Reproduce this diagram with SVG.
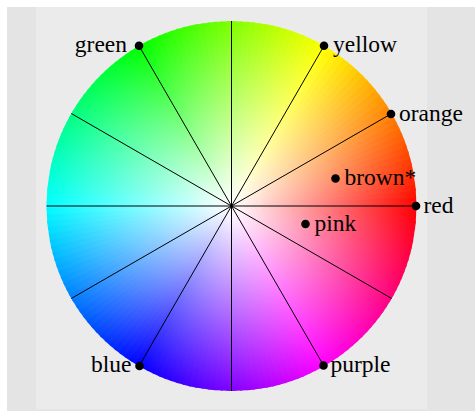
<svg xmlns="http://www.w3.org/2000/svg" xmlns:xlink="http://www.w3.org/1999/xlink" width="475" height="411" viewBox="0 0 475 411">
<style>
.lbl{font-family:"Liberation Serif","Times New Roman",serif;font-size:23.5px;fill:#000}
.dot{fill:#000}
.spoke{stroke:#000;stroke-width:1;fill:none}
</style>
<defs>
<path id="w" d="M0,0L190,-4.5L190,4.5Z"/>
<clipPath id="cc"><circle cx="0" cy="0" r="185"/></clipPath>
<radialGradient id="wh" cx="0.5" cy="0.5" r="0.5">
<stop offset="0" stop-color="#fff" stop-opacity="1"/>
<stop offset="1" stop-color="#fff" stop-opacity="0"/>
</radialGradient>
</defs>
<rect x="0" y="0" width="475" height="411" fill="#fff"/>
<rect x="7" y="7" width="468" height="404" fill="#e4e4e4"/>
<rect x="36" y="7" width="391" height="402" fill="#ebebeb"/>
<g id="wheel" transform="translate(231.5,206)">
<g clip-path="url(#cc)">
<use href="#w" transform="rotate(0)" fill="hsl(0,100%,50%)"/>
<use href="#w" transform="rotate(-2)" fill="hsl(2,100%,50%)"/>
<use href="#w" transform="rotate(-4)" fill="hsl(4,100%,50%)"/>
<use href="#w" transform="rotate(-6)" fill="hsl(6,100%,50%)"/>
<use href="#w" transform="rotate(-8)" fill="hsl(8,100%,50%)"/>
<use href="#w" transform="rotate(-10)" fill="hsl(10,100%,50%)"/>
<use href="#w" transform="rotate(-12)" fill="hsl(12,100%,50%)"/>
<use href="#w" transform="rotate(-14)" fill="hsl(14,100%,50%)"/>
<use href="#w" transform="rotate(-16)" fill="hsl(16,100%,50%)"/>
<use href="#w" transform="rotate(-18)" fill="hsl(18,100%,50%)"/>
<use href="#w" transform="rotate(-20)" fill="hsl(20,100%,50%)"/>
<use href="#w" transform="rotate(-22)" fill="hsl(22,100%,50%)"/>
<use href="#w" transform="rotate(-24)" fill="hsl(24,100%,50%)"/>
<use href="#w" transform="rotate(-26)" fill="hsl(26,100%,50%)"/>
<use href="#w" transform="rotate(-28)" fill="hsl(28,100%,50%)"/>
<use href="#w" transform="rotate(-30)" fill="hsl(30,100%,50%)"/>
<use href="#w" transform="rotate(-32)" fill="hsl(32,100%,50%)"/>
<use href="#w" transform="rotate(-34)" fill="hsl(34,100%,50%)"/>
<use href="#w" transform="rotate(-36)" fill="hsl(36,100%,50%)"/>
<use href="#w" transform="rotate(-38)" fill="hsl(38,100%,50%)"/>
<use href="#w" transform="rotate(-40)" fill="hsl(40,100%,50%)"/>
<use href="#w" transform="rotate(-42)" fill="hsl(42,100%,50%)"/>
<use href="#w" transform="rotate(-44)" fill="hsl(44,100%,50%)"/>
<use href="#w" transform="rotate(-46)" fill="hsl(46,100%,50%)"/>
<use href="#w" transform="rotate(-48)" fill="hsl(48,100%,50%)"/>
<use href="#w" transform="rotate(-50)" fill="hsl(50,100%,50%)"/>
<use href="#w" transform="rotate(-52)" fill="hsl(52,100%,50%)"/>
<use href="#w" transform="rotate(-54)" fill="hsl(54,100%,50%)"/>
<use href="#w" transform="rotate(-56)" fill="hsl(56,100%,50%)"/>
<use href="#w" transform="rotate(-58)" fill="hsl(58,100%,50%)"/>
<use href="#w" transform="rotate(-60)" fill="hsl(60,100%,50%)"/>
<use href="#w" transform="rotate(-62)" fill="hsl(62,100%,50%)"/>
<use href="#w" transform="rotate(-64)" fill="hsl(64,100%,50%)"/>
<use href="#w" transform="rotate(-66)" fill="hsl(66,100%,50%)"/>
<use href="#w" transform="rotate(-68)" fill="hsl(68,100%,50%)"/>
<use href="#w" transform="rotate(-70)" fill="hsl(70,100%,50%)"/>
<use href="#w" transform="rotate(-72)" fill="hsl(72,100%,50%)"/>
<use href="#w" transform="rotate(-74)" fill="hsl(74,100%,50%)"/>
<use href="#w" transform="rotate(-76)" fill="hsl(76,100%,50%)"/>
<use href="#w" transform="rotate(-78)" fill="hsl(78,100%,50%)"/>
<use href="#w" transform="rotate(-80)" fill="hsl(80,100%,50%)"/>
<use href="#w" transform="rotate(-82)" fill="hsl(82,100%,50%)"/>
<use href="#w" transform="rotate(-84)" fill="hsl(84,100%,50%)"/>
<use href="#w" transform="rotate(-86)" fill="hsl(86,100%,50%)"/>
<use href="#w" transform="rotate(-88)" fill="hsl(88,100%,50%)"/>
<use href="#w" transform="rotate(-90)" fill="hsl(90,100%,50%)"/>
<use href="#w" transform="rotate(-92)" fill="hsl(92,100%,50%)"/>
<use href="#w" transform="rotate(-94)" fill="hsl(94,100%,50%)"/>
<use href="#w" transform="rotate(-96)" fill="hsl(96,100%,50%)"/>
<use href="#w" transform="rotate(-98)" fill="hsl(98,100%,50%)"/>
<use href="#w" transform="rotate(-100)" fill="hsl(100,100%,50%)"/>
<use href="#w" transform="rotate(-102)" fill="hsl(102,100%,50%)"/>
<use href="#w" transform="rotate(-104)" fill="hsl(104,100%,50%)"/>
<use href="#w" transform="rotate(-106)" fill="hsl(106,100%,50%)"/>
<use href="#w" transform="rotate(-108)" fill="hsl(108,100%,50%)"/>
<use href="#w" transform="rotate(-110)" fill="hsl(110,100%,50%)"/>
<use href="#w" transform="rotate(-112)" fill="hsl(112,100%,50%)"/>
<use href="#w" transform="rotate(-114)" fill="hsl(114,100%,50%)"/>
<use href="#w" transform="rotate(-116)" fill="hsl(116,100%,50%)"/>
<use href="#w" transform="rotate(-118)" fill="hsl(118,100%,50%)"/>
<use href="#w" transform="rotate(-120)" fill="hsl(120,100%,50%)"/>
<use href="#w" transform="rotate(-122)" fill="hsl(122,100%,50%)"/>
<use href="#w" transform="rotate(-124)" fill="hsl(124,100%,50%)"/>
<use href="#w" transform="rotate(-126)" fill="hsl(126,100%,50%)"/>
<use href="#w" transform="rotate(-128)" fill="hsl(128,100%,50%)"/>
<use href="#w" transform="rotate(-130)" fill="hsl(130,100%,50%)"/>
<use href="#w" transform="rotate(-132)" fill="hsl(132,100%,50%)"/>
<use href="#w" transform="rotate(-134)" fill="hsl(134,100%,50%)"/>
<use href="#w" transform="rotate(-136)" fill="hsl(136,100%,50%)"/>
<use href="#w" transform="rotate(-138)" fill="hsl(138,100%,50%)"/>
<use href="#w" transform="rotate(-140)" fill="hsl(140,100%,50%)"/>
<use href="#w" transform="rotate(-142)" fill="hsl(142,100%,50%)"/>
<use href="#w" transform="rotate(-144)" fill="hsl(144,100%,50%)"/>
<use href="#w" transform="rotate(-146)" fill="hsl(146,100%,50%)"/>
<use href="#w" transform="rotate(-148)" fill="hsl(148,100%,50%)"/>
<use href="#w" transform="rotate(-150)" fill="hsl(150,100%,50%)"/>
<use href="#w" transform="rotate(-152)" fill="hsl(152,100%,50%)"/>
<use href="#w" transform="rotate(-154)" fill="hsl(154,100%,50%)"/>
<use href="#w" transform="rotate(-156)" fill="hsl(156,100%,50%)"/>
<use href="#w" transform="rotate(-158)" fill="hsl(158,100%,50%)"/>
<use href="#w" transform="rotate(-160)" fill="hsl(160,100%,50%)"/>
<use href="#w" transform="rotate(-162)" fill="hsl(162,100%,50%)"/>
<use href="#w" transform="rotate(-164)" fill="hsl(164,100%,50%)"/>
<use href="#w" transform="rotate(-166)" fill="hsl(166,100%,50%)"/>
<use href="#w" transform="rotate(-168)" fill="hsl(168,100%,50%)"/>
<use href="#w" transform="rotate(-170)" fill="hsl(170,100%,50%)"/>
<use href="#w" transform="rotate(-172)" fill="hsl(172,100%,50%)"/>
<use href="#w" transform="rotate(-174)" fill="hsl(174,100%,50%)"/>
<use href="#w" transform="rotate(-176)" fill="hsl(176,100%,50%)"/>
<use href="#w" transform="rotate(-178)" fill="hsl(178,100%,50%)"/>
<use href="#w" transform="rotate(-180)" fill="hsl(180,100%,50%)"/>
<use href="#w" transform="rotate(-182)" fill="hsl(182,100%,50%)"/>
<use href="#w" transform="rotate(-184)" fill="hsl(184,100%,50%)"/>
<use href="#w" transform="rotate(-186)" fill="hsl(186,100%,50%)"/>
<use href="#w" transform="rotate(-188)" fill="hsl(188,100%,50%)"/>
<use href="#w" transform="rotate(-190)" fill="hsl(190,100%,50%)"/>
<use href="#w" transform="rotate(-192)" fill="hsl(192,100%,50%)"/>
<use href="#w" transform="rotate(-194)" fill="hsl(194,100%,50%)"/>
<use href="#w" transform="rotate(-196)" fill="hsl(196,100%,50%)"/>
<use href="#w" transform="rotate(-198)" fill="hsl(198,100%,50%)"/>
<use href="#w" transform="rotate(-200)" fill="hsl(200,100%,50%)"/>
<use href="#w" transform="rotate(-202)" fill="hsl(202,100%,50%)"/>
<use href="#w" transform="rotate(-204)" fill="hsl(204,100%,50%)"/>
<use href="#w" transform="rotate(-206)" fill="hsl(206,100%,50%)"/>
<use href="#w" transform="rotate(-208)" fill="hsl(208,100%,50%)"/>
<use href="#w" transform="rotate(-210)" fill="hsl(210,100%,50%)"/>
<use href="#w" transform="rotate(-212)" fill="hsl(212,100%,50%)"/>
<use href="#w" transform="rotate(-214)" fill="hsl(214,100%,50%)"/>
<use href="#w" transform="rotate(-216)" fill="hsl(216,100%,50%)"/>
<use href="#w" transform="rotate(-218)" fill="hsl(218,100%,50%)"/>
<use href="#w" transform="rotate(-220)" fill="hsl(220,100%,50%)"/>
<use href="#w" transform="rotate(-222)" fill="hsl(222,100%,50%)"/>
<use href="#w" transform="rotate(-224)" fill="hsl(224,100%,50%)"/>
<use href="#w" transform="rotate(-226)" fill="hsl(226,100%,50%)"/>
<use href="#w" transform="rotate(-228)" fill="hsl(228,100%,50%)"/>
<use href="#w" transform="rotate(-230)" fill="hsl(230,100%,50%)"/>
<use href="#w" transform="rotate(-232)" fill="hsl(232,100%,50%)"/>
<use href="#w" transform="rotate(-234)" fill="hsl(234,100%,50%)"/>
<use href="#w" transform="rotate(-236)" fill="hsl(236,100%,50%)"/>
<use href="#w" transform="rotate(-238)" fill="hsl(238,100%,50%)"/>
<use href="#w" transform="rotate(-240)" fill="hsl(240,100%,50%)"/>
<use href="#w" transform="rotate(-242)" fill="hsl(242,100%,50%)"/>
<use href="#w" transform="rotate(-244)" fill="hsl(244,100%,50%)"/>
<use href="#w" transform="rotate(-246)" fill="hsl(246,100%,50%)"/>
<use href="#w" transform="rotate(-248)" fill="hsl(248,100%,50%)"/>
<use href="#w" transform="rotate(-250)" fill="hsl(250,100%,50%)"/>
<use href="#w" transform="rotate(-252)" fill="hsl(252,100%,50%)"/>
<use href="#w" transform="rotate(-254)" fill="hsl(254,100%,50%)"/>
<use href="#w" transform="rotate(-256)" fill="hsl(256,100%,50%)"/>
<use href="#w" transform="rotate(-258)" fill="hsl(258,100%,50%)"/>
<use href="#w" transform="rotate(-260)" fill="hsl(260,100%,50%)"/>
<use href="#w" transform="rotate(-262)" fill="hsl(262,100%,50%)"/>
<use href="#w" transform="rotate(-264)" fill="hsl(264,100%,50%)"/>
<use href="#w" transform="rotate(-266)" fill="hsl(266,100%,50%)"/>
<use href="#w" transform="rotate(-268)" fill="hsl(268,100%,50%)"/>
<use href="#w" transform="rotate(-270)" fill="hsl(270,100%,50%)"/>
<use href="#w" transform="rotate(-272)" fill="hsl(272,100%,50%)"/>
<use href="#w" transform="rotate(-274)" fill="hsl(274,100%,50%)"/>
<use href="#w" transform="rotate(-276)" fill="hsl(276,100%,50%)"/>
<use href="#w" transform="rotate(-278)" fill="hsl(278,100%,50%)"/>
<use href="#w" transform="rotate(-280)" fill="hsl(280,100%,50%)"/>
<use href="#w" transform="rotate(-282)" fill="hsl(282,100%,50%)"/>
<use href="#w" transform="rotate(-284)" fill="hsl(284,100%,50%)"/>
<use href="#w" transform="rotate(-286)" fill="hsl(286,100%,50%)"/>
<use href="#w" transform="rotate(-288)" fill="hsl(288,100%,50%)"/>
<use href="#w" transform="rotate(-290)" fill="hsl(290,100%,50%)"/>
<use href="#w" transform="rotate(-292)" fill="hsl(292,100%,50%)"/>
<use href="#w" transform="rotate(-294)" fill="hsl(294,100%,50%)"/>
<use href="#w" transform="rotate(-296)" fill="hsl(296,100%,50%)"/>
<use href="#w" transform="rotate(-298)" fill="hsl(298,100%,50%)"/>
<use href="#w" transform="rotate(-300)" fill="hsl(300,100%,50%)"/>
<use href="#w" transform="rotate(-302)" fill="hsl(302,100%,50%)"/>
<use href="#w" transform="rotate(-304)" fill="hsl(304,100%,50%)"/>
<use href="#w" transform="rotate(-306)" fill="hsl(306,100%,50%)"/>
<use href="#w" transform="rotate(-308)" fill="hsl(308,100%,50%)"/>
<use href="#w" transform="rotate(-310)" fill="hsl(310,100%,50%)"/>
<use href="#w" transform="rotate(-312)" fill="hsl(312,100%,50%)"/>
<use href="#w" transform="rotate(-314)" fill="hsl(314,100%,50%)"/>
<use href="#w" transform="rotate(-316)" fill="hsl(316,100%,50%)"/>
<use href="#w" transform="rotate(-318)" fill="hsl(318,100%,50%)"/>
<use href="#w" transform="rotate(-320)" fill="hsl(320,100%,50%)"/>
<use href="#w" transform="rotate(-322)" fill="hsl(322,100%,50%)"/>
<use href="#w" transform="rotate(-324)" fill="hsl(324,100%,50%)"/>
<use href="#w" transform="rotate(-326)" fill="hsl(326,100%,50%)"/>
<use href="#w" transform="rotate(-328)" fill="hsl(328,100%,50%)"/>
<use href="#w" transform="rotate(-330)" fill="hsl(330,100%,50%)"/>
<use href="#w" transform="rotate(-332)" fill="hsl(332,100%,50%)"/>
<use href="#w" transform="rotate(-334)" fill="hsl(334,100%,50%)"/>
<use href="#w" transform="rotate(-336)" fill="hsl(336,100%,50%)"/>
<use href="#w" transform="rotate(-338)" fill="hsl(338,100%,50%)"/>
<use href="#w" transform="rotate(-340)" fill="hsl(340,100%,50%)"/>
<use href="#w" transform="rotate(-342)" fill="hsl(342,100%,50%)"/>
<use href="#w" transform="rotate(-344)" fill="hsl(344,100%,50%)"/>
<use href="#w" transform="rotate(-346)" fill="hsl(346,100%,50%)"/>
<use href="#w" transform="rotate(-348)" fill="hsl(348,100%,50%)"/>
<use href="#w" transform="rotate(-350)" fill="hsl(350,100%,50%)"/>
<use href="#w" transform="rotate(-352)" fill="hsl(352,100%,50%)"/>
<use href="#w" transform="rotate(-354)" fill="hsl(354,100%,50%)"/>
<use href="#w" transform="rotate(-356)" fill="hsl(356,100%,50%)"/>
<use href="#w" transform="rotate(-358)" fill="hsl(358,100%,50%)"/>
</g>
<circle cx="0" cy="0" r="185" fill="url(#wh)"/>
</g>
<g id="connectors">
<line class="spoke" x1="416.5" y1="206" x2="46.5" y2="206"/>
<line class="spoke" x1="391.7" y1="113.5" x2="71.3" y2="298.5"/>
<line class="spoke" x1="324" y1="45.8" x2="139" y2="366.2"/>
<line class="spoke" x1="231.5" y1="21" x2="231.5" y2="391"/>
<line class="spoke" x1="139" y1="45.8" x2="324" y2="366.2"/>
<line class="spoke" x1="71.3" y1="113.5" x2="391.7" y2="298.5"/>
</g>
<g id="green"><circle class="dot" cx="139" cy="45.8" r="4.3"/><text class="lbl" x="127" y="52" text-anchor="end">green</text></g>
<g id="yellow"><circle class="dot" cx="324" cy="45.8" r="4.3"/><text class="lbl" x="333" y="52">yellow</text></g>
<g id="orange"><circle class="dot" cx="391" cy="114" r="4.3"/><text class="lbl" x="399" y="121">orange</text></g>
<g id="brown"><circle class="dot" cx="335.5" cy="178.5" r="4.3"/><text class="lbl" x="344.5" y="185">brown*</text></g>
<g id="red"><circle class="dot" cx="416" cy="206" r="4.3"/><text class="lbl" x="423.5" y="213">red</text></g>
<g id="pink"><circle class="dot" cx="305.5" cy="224" r="4.3"/><text class="lbl" x="314.5" y="231">pink</text></g>
<g id="blue"><circle class="dot" cx="139.5" cy="366" r="4.3"/><text class="lbl" x="131.5" y="372" text-anchor="end">blue</text></g>
<g id="purple"><circle class="dot" cx="323.5" cy="365.5" r="4.3"/><text class="lbl" x="330.5" y="372">purple</text></g>
</svg>
